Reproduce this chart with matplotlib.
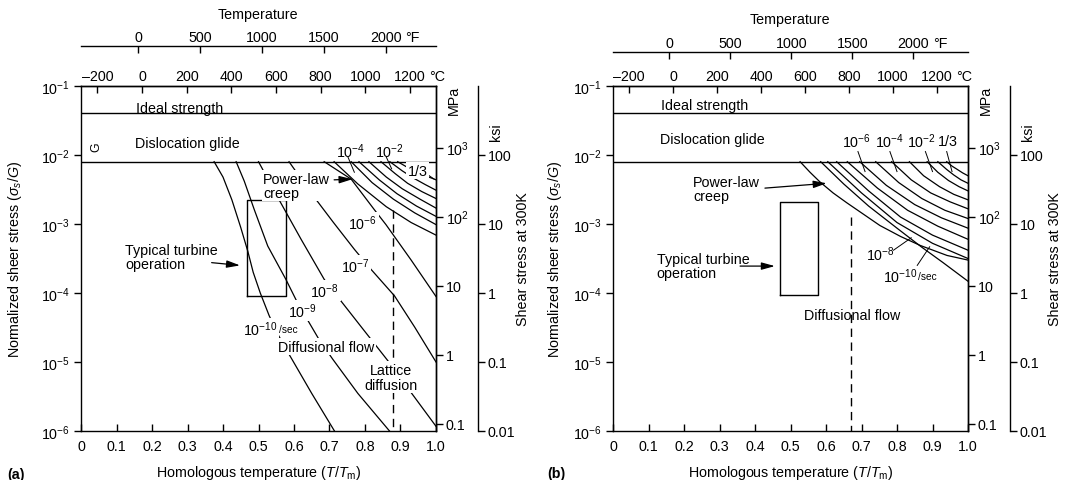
import numpy as np
import matplotlib.pyplot as plt
from matplotlib.ticker import NullLocator

plt.rcParams['font.family'] = ['Liberation Sans', 'DejaVu Sans']
plt.rcParams['mathtext.fontset'] = 'custom'
plt.rcParams['mathtext.rm'] = 'Liberation Sans'
plt.rcParams['mathtext.it'] = 'Liberation Sans:italic'
plt.rcParams['mathtext.bf'] = 'Liberation Sans:bold'
plt.rcParams['axes.linewidth'] = 1.0

FS = 10.3
LW = 0.9

# ---------------- data ----------------
stress_lim = (1e-6, 1e-1)
glide_limit = 8.0e-3      # top of power-law region
ideal_limit = 4.0e-2      # ideal strength
G_MPA = 78000.0           # shear modulus used for MPa scale
KSI_PER_G = 9900.0        # sigma/G -> ksi as drawn
tm_a = 1590.0             # melting point (K) used for top scales
tm_b = 1615.0

homol_ticks = [0, 0.1, 0.2, 0.3, 0.4, 0.5, 0.6, 0.7, 0.8, 0.9, 1.0]
homol_labels = ['0', '0.1', '0.2', '0.3', '0.4', '0.5', '0.6', '0.7', '0.8', '0.9', '1.0']
stress_ticks = [1e-6, 1e-5, 1e-4, 1e-3, 1e-2, 1e-1]
stress_labels = [r'$10^{-6}$', r'$10^{-5}$', r'$10^{-4}$', r'$10^{-3}$', r'$10^{-2}$', r'$10^{-1}$']
mpa_ticks = [0.1, 1, 10, 100, 1000]
mpa_labels = ['0.1', '1', '10', r'$10^2$', r'$10^3$']
ksi_ticks = [0.01, 0.1, 1, 10, 100]
ksi_labels = ['0.01', '0.1', '1', '10', '100']
celsius_ticks = [-200, 0, 200, 400, 600, 800, 1000, 1200]
celsius_labels = ['\u2013200', '0', '200', '400', '600', '800', '1000', '1200']
fahr_ticks = [0, 500, 1000, 1500, 2000]
fahr_labels = ['0', '500', '1000', '1500', '2000']

# panel (a): strain-rate contours (T/Tm, sigma/G)
a_contour_x = {
    '1e-10': [0.375, 0.40, 0.425, 0.45, 0.47, 0.485, 0.505, 0.53, 0.555, 0.584, 0.65, 0.714],
    '1e-9': [0.437, 0.46, 0.488, 0.526, 0.577, 0.61, 0.671, 0.709, 0.78, 0.869],
    '1e-8': [0.50, 0.558, 0.62, 0.685, 0.718, 0.79, 0.864, 0.93, 1.0],
    '1e-7': [0.586, 0.648, 0.71, 0.77, 0.817, 0.883, 0.94, 1.0],
    '1e-6': [0.685, 0.761, 0.826, 0.859, 0.93, 1.0],
}
a_contour_y = {
    '1e-10': [8e-3, 4.79e-3, 2.24e-3, 8.9e-4, 4.0e-4, 2.0e-4, 1.0e-4, 4.7e-5, 2.5e-5, 1.35e-5, 3.5e-6, 1e-6],
    '1e-9': [8e-3, 4.17e-3, 1.62e-3, 4.8e-4, 1.58e-4, 7.2e-5, 2.1e-5, 1.1e-5, 3.5e-6, 1e-6],
    '1e-8': [8e-3, 2.24e-3, 6.0e-4, 1.58e-4, 9.5e-5, 3.2e-5, 1.05e-5, 3.6e-6, 1.17e-6],
    '1e-7': [8e-3, 2.82e-3, 1.07e-3, 4.3e-4, 2.2e-4, 9.1e-5, 3.2e-5, 1.0e-5],
    '1e-6': [8e-3, 4.47e-3, 1.62e-3, 9.8e-4, 3.0e-4, 8.9e-5],
}
# panel (a): faster power-law creep contours
a_creep_x = [
    [0.713, 0.78, 0.86, 0.93, 1.0],
    [0.761, 0.82, 0.88, 0.94, 1.0],
    [0.783, 0.84, 0.89, 0.945, 1.0],
    [0.811, 0.86, 0.905, 0.955, 1.0],
    [0.845, 0.885, 0.92, 0.96, 1.0],
    [0.870, 0.905, 0.935, 0.97, 1.0],
    [0.892, 0.92, 0.945, 0.975, 1.0],
]
a_creep_y = [
    [8e-3, 3.8e-3, 1.78e-3, 1.05e-3, 6.9e-4],
    [8e-3, 3.98e-3, 2.29e-3, 1.45e-3, 9.8e-4],
    [8e-3, 4.37e-3, 2.75e-3, 1.82e-3, 1.29e-3],
    [8e-3, 4.79e-3, 3.24e-3, 2.29e-3, 1.70e-3],
    [8e-3, 5.37e-3, 3.89e-3, 2.95e-3, 2.34e-3],
    [8e-3, 5.89e-3, 4.68e-3, 3.72e-3, 3.09e-3],
    [8e-3, 6.6e-3, 5.75e-3, 4.9e-3, 4.37e-3],
]
a_lattice_x = 0.88
a_lattice_top = 1.62e-3
a_box_x = [0.467, 0.578]
a_box_y = [9.0e-5, 2.25e-3]

# panel (b): power-law / diffusional flow boundary
b_boundary_x = [0.527, 0.555, 0.583, 0.62, 0.658, 0.70, 0.752, 0.81, 0.865, 0.941, 1.0]
b_boundary_y = [8e-3, 5.62e-3, 4.07e-3, 2.82e-3, 2.04e-3, 1.45e-3, 9.5e-4, 6.6e-4, 4.9e-4, 3.5e-4, 3.0e-4]
# panel (b): strain-rate contours, 1e-10 ... 1/3 per sec
b_creep_x = [
    [0.585, 0.65, 0.72, 0.80, 0.87, 0.93, 1.0],
    [0.605, 0.70, 0.80, 0.90, 1.0],
    [0.63, 0.72, 0.81, 0.90, 1.0],
    [0.66, 0.745, 0.83, 0.915, 1.0],
    [0.695, 0.77, 0.85, 0.925, 1.0],
    [0.74, 0.805, 0.87, 0.935, 1.0],
    [0.785, 0.84, 0.895, 0.95, 1.0],
    [0.835, 0.875, 0.92, 0.96, 1.0],
    [0.885, 0.915, 0.945, 0.975, 1.0],
    [0.915, 0.94, 0.96, 0.98, 1.0],
    [0.94, 0.955, 0.97, 0.985, 1.0],
]
b_creep_y = [
    [8e-3, 3.8e-3, 1.82e-3, 8.7e-4, 4.6e-4, 2.75e-4, 1.48e-4],
    [8e-3, 2.82e-3, 1.05e-3, 5.25e-4, 3.16e-4],
    [8e-3, 3.02e-3, 1.26e-3, 6.9e-4, 4.17e-4],
    [8e-3, 3.31e-3, 1.58e-3, 9.3e-4, 6.0e-4],
    [8e-3, 3.63e-3, 1.91e-3, 1.23e-3, 8.7e-4],
    [8e-3, 3.98e-3, 2.34e-3, 1.58e-3, 1.20e-3],
    [8e-3, 4.37e-3, 2.82e-3, 2.09e-3, 1.66e-3],
    [8e-3, 5.0e-3, 3.47e-3, 2.69e-3, 2.24e-3],
    [8e-3, 5.62e-3, 4.27e-3, 3.47e-3, 3.02e-3],
    [8e-3, 6.17e-3, 5.13e-3, 4.37e-3, 3.89e-3],
    [8e-3, 6.9e-3, 6.17e-3, 5.5e-3, 5.0e-3],
]
b_lattice_x = 0.67
b_lattice_top = 1.26e-3
b_box_x = [0.47, 0.578]
b_box_y = [9.2e-5, 2.06e-3]

WHITE = dict(boxstyle='square,pad=0.1', fc='white', ec='none')


def lg(v):
    return 10.0 ** v


def setup_axes(ax, tm, f_loc, ylabelpad):
    ax.set_xlim(0, 1)
    ax.set_yscale('log')
    ax.set_ylim(*stress_lim)
    ax.set_xticks(homol_ticks, labels=homol_labels)
    ax.set_yticks(stress_ticks, labels=stress_labels)
    ax.yaxis.set_minor_locator(NullLocator())
    ax.tick_params(axis='x', direction='in', length=5, width=1, pad=6, labelsize=FS)
    ax.tick_params(axis='y', direction='out', length=5, width=1, pad=3, labelsize=FS)
    ax.set_xlabel(r'Homologous temperature ($T$/$T_\mathrm{m}$)', fontsize=FS, labelpad=7)
    ax.set_ylabel(r'Normalized sheer stress ($\sigma_s$/$G$)', fontsize=FS, labelpad=ylabelpad)

    # right scales
    mpa = ax.secondary_yaxis('right', functions=(lambda s: s * G_MPA, lambda m: m / G_MPA))
    mpa.set_ticks(mpa_ticks, labels=mpa_labels)
    mpa.yaxis.set_minor_locator(NullLocator())
    mpa.tick_params(direction='out', length=5, width=1, pad=2, labelsize=FS)

    ksi = ax.secondary_yaxis(1.118, functions=(lambda s: s * KSI_PER_G, lambda k: k / KSI_PER_G))
    ksi.set_ticks(ksi_ticks, labels=ksi_labels)
    ksi.yaxis.set_minor_locator(NullLocator())
    ksi.tick_params(direction='out', length=5, width=1, pad=2, labelsize=FS)

    ax.text(1.05, 0.96, 'MPa', transform=ax.transAxes, rotation=90, ha='center', va='center', fontsize=FS)
    ax.text(1.17, 0.87, 'ksi', transform=ax.transAxes, rotation=90, ha='center', va='center', fontsize=FS)
    ax.text(1.245, 0.5, 'Shear stress at 300K', transform=ax.transAxes, rotation=90,
            ha='center', va='center', fontsize=FS)

    # top temperature scales
    cax = ax.secondary_xaxis('top', functions=(lambda h: h * tm - 273.15, lambda c: (c + 273.15) / tm))
    cax.set_ticks(celsius_ticks, labels=celsius_labels)
    cax.tick_params(direction='in', length=5, width=1, pad=2, labelsize=FS)
    ax.annotate('\u00b0C', xy=((celsius_ticks[-1] + 273.15) / tm, 1), xycoords=('data', 'axes fraction'),
                xytext=(14, 2), textcoords='offset points', ha='left', va='bottom', fontsize=FS)

    def f2h(f):
        return ((f - 32) * 5 / 9 + 273.15) / tm

    def h2f(h):
        return (h * tm - 273.15) * 9 / 5 + 32

    fax = ax.secondary_xaxis(f_loc, functions=(h2f, f2h))
    fax.set_ticks(fahr_ticks, labels=fahr_labels)
    fax.tick_params(direction='in', length=5, width=1, pad=1, labelsize=FS)
    ax.annotate('\u00b0F', xy=(f2h(fahr_ticks[-1]), f_loc), xycoords=('data', 'axes fraction'),
                xytext=(14, 1), textcoords='offset points', ha='left', va='bottom', fontsize=FS)

    ax.axhline(glide_limit, color='k', lw=1.0)
    ax.axhline(ideal_limit, color='k', lw=1.0)


def box(ax, bx, by):
    ax.plot([bx[0], bx[1], bx[1], bx[0], bx[0]], [by[0], by[0], by[1], by[1], by[0]], color='k', lw=1.0)


def arrow(ax, tail, tip):
    ax.annotate('', xy=tip, xytext=tail,
                arrowprops=dict(arrowstyle='-|>,head_length=0.8,head_width=0.22', color='k',
                                lw=0.9, shrinkA=0, shrinkB=0))


def leader(ax, p0, p1):
    ax.plot([p0[0], p1[0]], [p0[1], p1[1]], color='k', lw=0.7)


fig = plt.figure(figsize=(10.76, 4.81), dpi=100)
ax_a = fig.add_axes([81 / 1076, 49 / 481, 355 / 1076, 345 / 481])
ax_b = fig.add_axes([613 / 1076, 49 / 481, 355 / 1076, 345 / 481])

setup_axes(ax_a, tm_a, 1.117, 12)
setup_axes(ax_b, tm_b, 1.099, 6)

# ---------------- panel (a) ----------------
ax = ax_a
for k in a_contour_x:
    ax.plot(a_contour_x[k], a_contour_y[k], color='k', lw=LW)
for xs, ys in zip(a_creep_x, a_creep_y):
    ax.plot(xs, ys, color='k', lw=LW)
ax.plot([a_lattice_x, a_lattice_x], [a_lattice_top, stress_lim[0]], color='k', lw=1.0, dashes=(6, 4))
box(ax, a_box_x, a_box_y)

ax.text(0.155, lg(-1.32), 'Ideal strength', ha='left', va='center', fontsize=FS)
ax.text(0.152, lg(-1.82), 'Dislocation glide', ha='left', va='center', fontsize=FS)
ax.text(0.042, lg(-1.87), 'G', rotation=90, ha='center', va='center', fontsize=FS - 1.5)
ax.text(0.513, lg(-2.24), 'Power-law\ncreep', ha='left', va='top', fontsize=FS,
        linespacing=1.0, bbox=WHITE)
arrow(ax, (0.713, lg(-2.36)), (0.765, lg(-2.35)))
ax.text(0.124, lg(-3.48), 'Typical turbine\noperation', ha='left', va='center', fontsize=FS, linespacing=1.0)
arrow(ax, (0.368, lg(-3.56)), (0.448, lg(-3.60)))

ax.text(0.758, lg(-1.94), r'$10^{-4}$', ha='center', va='center', fontsize=FS)
leader(ax, (0.752, lg(-2.03)), (0.77, lg(-2.25)))
ax.text(0.868, lg(-1.94), r'$10^{-2}$', ha='center', va='center', fontsize=FS)
leader(ax, (0.86, lg(-2.03)), (0.875, lg(-2.2)))
ax.text(0.948, lg(-2.23), '1/3', ha='center', va='center', fontsize=FS, bbox=WHITE)
leader(ax, (0.978, lg(-2.29)), (0.995, lg(-2.35)))
ax.text(0.794, lg(-2.98), r'$10^{-6}$', ha='center', va='center', fontsize=FS, bbox=WHITE)
ax.text(0.772, lg(-3.60), r'$10^{-7}$', ha='center', va='center', fontsize=FS, bbox=WHITE)
ax.text(0.687, lg(-3.96), r'$10^{-8}$', ha='center', va='center', fontsize=FS, bbox=WHITE)
ax.text(0.623, lg(-4.25), r'$10^{-9}$', ha='center', va='center', fontsize=FS, bbox=WHITE)
ax.text(0.555, lg(-4.52), r'$10^{-10}$', ha='right', va='center', fontsize=FS, bbox=WHITE)
ax.text(0.557, lg(-4.52), '/sec', ha='left', va='center', fontsize=FS - 3, bbox=WHITE)
ax.text(0.69, lg(-4.78), 'Diffusional flow', ha='center', va='center', fontsize=FS, bbox=WHITE)
ax.text(0.873, lg(-5.22), 'Lattice\ndiffusion', ha='center', va='center', fontsize=FS,
        linespacing=1.1, bbox=WHITE)

# ---------------- panel (b) ----------------
ax = ax_b
ax.plot(b_boundary_x, b_boundary_y, color='k', lw=LW)
for xs, ys in zip(b_creep_x, b_creep_y):
    ax.plot(xs, ys, color='k', lw=LW)
ax.plot([b_lattice_x, b_lattice_x], [b_lattice_top, stress_lim[0]], color='k', lw=1.0, dashes=(6, 4))
box(ax, b_box_x, b_box_y)

ax.text(0.135, lg(-1.28), 'Ideal strength', ha='left', va='center', fontsize=FS)
ax.text(0.132, lg(-1.77), 'Dislocation glide', ha='left', va='center', fontsize=FS)
ax.text(0.225, lg(-2.29), 'Power-law\ncreep', ha='left', va='top', fontsize=FS, linespacing=1.0)
arrow(ax, (0.428, lg(-2.48)), (0.602, lg(-2.41)))
ax.text(0.123, lg(-3.61), 'Typical turbine\noperation', ha='left', va='center', fontsize=FS, linespacing=1.0)
arrow(ax, (0.358, lg(-3.61)), (0.456, lg(-3.61)))
ax.text(0.673, lg(-4.32), 'Diffusional flow', ha='center', va='center', fontsize=FS)

for xc, lab in zip([0.686, 0.780, 0.869], [r'$10^{-6}$', r'$10^{-4}$', r'$10^{-2}$']):
    ax.text(xc, lg(-1.79), lab, ha='center', va='center', fontsize=FS)
ax.text(0.942, lg(-1.79), '1/3', ha='center', va='center', fontsize=FS)
leader(ax, (0.69, lg(-1.95)), (0.71, lg(-2.24)))
leader(ax, (0.78, lg(-1.95)), (0.80, lg(-2.24)))
leader(ax, (0.88, lg(-1.95)), (0.90, lg(-2.24)))
leader(ax, (0.94, lg(-1.95)), (0.955, lg(-2.24)))
ax.text(0.752, lg(-3.43), r'$10^{-8}$', ha='center', va='center', fontsize=FS)
leader(ax, (0.79, lg(-3.38)), (0.84, lg(-3.20)))
ax.text(0.858, lg(-3.75), r'$10^{-10}$', ha='right', va='center', fontsize=FS)
ax.text(0.86, lg(-3.75), '/sec', ha='left', va='center', fontsize=FS - 3)
leader(ax, (0.857, lg(-3.60)), (0.892, lg(-3.33)))

# titles and panel letters
fig.text(258 / 1076, 1 - 15 / 481, 'Temperature', ha='center', va='center', fontsize=FS)
fig.text(790 / 1076, 1 - 20 / 481, 'Temperature', ha='center', va='center', fontsize=FS)
fig.text(7 / 1076, 1 - 475 / 481, '(a)', ha='left', va='center', fontsize=FS, fontweight='bold')
fig.text(547 / 1076, 1 - 474 / 481, '(b)', ha='left', va='center', fontsize=FS, fontweight='bold')

fig.savefig('out.png', dpi=100)
